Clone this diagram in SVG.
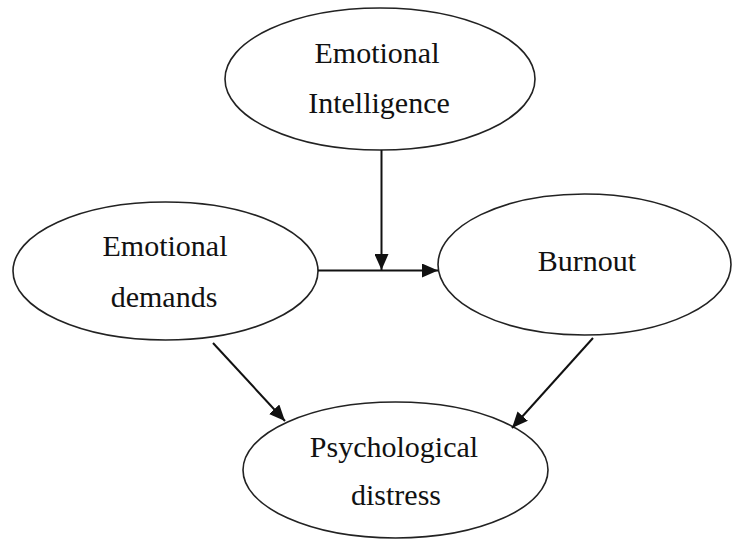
<svg xmlns="http://www.w3.org/2000/svg" width="733" height="542" viewBox="0 0 733 542">
<defs>
<style>
.node ellipse{fill:#fff;stroke:#222;stroke-width:1.6}
.node text{font-family:"Liberation Serif","Times New Roman",serif;font-size:30px;fill:#111;text-anchor:middle}
.edges line{stroke:#111;stroke-width:2;fill:none}
</style>
<marker id="ah" viewBox="0 0 16 14" refX="16" refY="7" markerWidth="16" markerHeight="14" markerUnits="userSpaceOnUse" orient="auto">
<path d="M0,0 L16,7 L0,14 Z" fill="#111"/>
</marker>
</defs>
<rect width="733" height="542" fill="#fff"/>
<g id="node-ei" class="node">
<ellipse cx="380" cy="79" rx="155" ry="71"/>
<text x="377" y="63">Emotional</text>
<text x="379" y="113">Intelligence</text>
</g>
<g id="node-ed" class="node">
<ellipse cx="165.5" cy="271" rx="152.5" ry="69"/>
<text x="165" y="256">Emotional</text>
<text x="164" y="307">demands</text>
</g>
<g id="node-burnout" class="node">
<ellipse cx="584.5" cy="264.5" rx="146.5" ry="70.5"/>
<text x="587" y="271">Burnout</text>
</g>
<g id="node-pd" class="node">
<ellipse cx="395.5" cy="470" rx="152.5" ry="68"/>
<text x="394" y="457">Psychological</text>
<text x="396" y="505">distress</text>
</g>
<g id="edges" class="edges">
<line x1="318" y1="270.5" x2="438" y2="270.5" marker-end="url(#ah)"/>
<line x1="381.5" y1="150" x2="381.5" y2="270" marker-end="url(#ah)"/>
<line x1="213" y1="343" x2="285" y2="421" marker-end="url(#ah)"/>
<line x1="593" y1="338" x2="512" y2="428" marker-end="url(#ah)"/>
</g>
</svg>
